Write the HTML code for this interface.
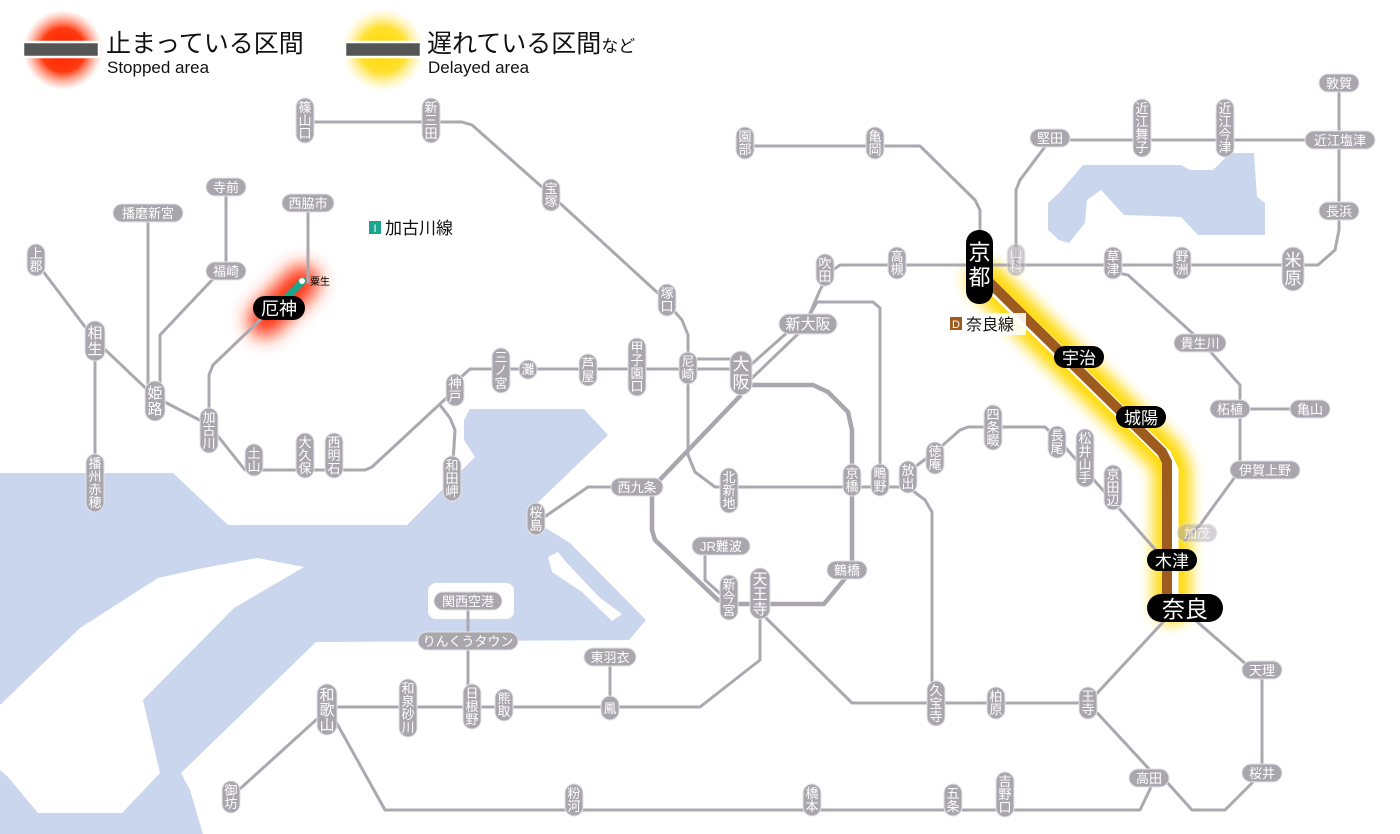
<!DOCTYPE html>
<html><head><meta charset="utf-8"><style>
html,body{margin:0;padding:0;background:#fff;}
svg{display:block;}
text{font-family:"Liberation Sans","Noto Sans CJK JP",sans-serif;}
.l{fill:none;stroke:#aba8b0;stroke-width:3;stroke-linejoin:round;stroke-linecap:round;}
.lt{fill:none;stroke:#a9a6ae;stroke-width:4.5;stroke-linejoin:round;}
.v rect,.h rect{fill:#aaa6ae;stroke:#e4e2e6;stroke-width:1;}
.v text,.h text{fill:#fff;font-size:13px;text-anchor:middle;}
.b rect{fill:#000;}
.b text{fill:#fff;text-anchor:middle;}
</style></head><body>
<svg width="1400" height="834" viewBox="0 0 1400 834" xmlns="http://www.w3.org/2000/svg">
<defs>
<radialGradient id="rg"><stop offset="0" stop-color="#ff2000"/><stop offset="0.55" stop-color="#ff3a10"/><stop offset="1" stop-color="#ff8060" stop-opacity="0"/></radialGradient>
<radialGradient id="yg"><stop offset="0" stop-color="#ffd800"/><stop offset="0.55" stop-color="#ffe030"/><stop offset="1" stop-color="#fff0a0" stop-opacity="0"/></radialGradient>
<filter id="blur" filterUnits="userSpaceOnUse" x="0" y="0" width="1400" height="834"><feGaussianBlur stdDeviation="9"/></filter>
<filter id="blur2" filterUnits="userSpaceOnUse" x="0" y="0" width="1400" height="834"><feGaussianBlur stdDeviation="7"/></filter>
</defs>

<!-- water -->
<polygon fill="#cad6ee" points="0,473 173,473 228,525 407,525 475,457 464,440 464,420 470,409 584,409 608,435 527,513 544,527 570,543 646,620 629,640 316,642 181,773 190,790 203,834 0,834"/>
<polygon fill="#fff" points="257,558 304,567 234,608 143,700 160,773 122,813 38,813 8,777 0,770 0,705 80,628 158,578 203,568"/>
<rect x="428" y="583" width="86" height="36" rx="8" fill="#fff"/>
<polygon fill="#fff" points="548,557 558,552 566,562 600,598 622,614 612,621 582,592 552,572"/>
<polygon fill="#fff" points="552,520 572,498 576,506 562,526"/>
<polygon fill="#cad6ee" points="1083,165 1181,165 1190,170 1213,170 1230,153 1254,153 1257,197 1265,203 1265,235 1198,235 1181,217 1124,215 1101,190 1087,200 1085,223 1069,243 1059,240 1048,230 1048,203 1059,193"/>

<!-- legend -->
<circle cx="63" cy="50" r="40" fill="url(#rg)"/>
<rect x="23" y="42" width="76" height="15" fill="#555" stroke="#fff" stroke-width="2.5"/>
<text x="106" y="52" font-size="25" fill="#111">止まっている区間</text>
<text x="107" y="73" font-size="17" fill="#111">Stopped area</text>
<circle cx="383" cy="50" r="42" fill="url(#yg)"/>
<rect x="345" y="42" width="76" height="15" fill="#555" stroke="#fff" stroke-width="2.5"/>
<text x="427" y="52" font-size="25" fill="#111">遅れている区間<tspan font-size="17">など</tspan></text>
<text x="428" y="73" font-size="17" fill="#111">Delayed area</text>

<!-- glows -->
<line x1="265" y1="320" x2="302" y2="282" stroke="#ff3010" stroke-width="34" stroke-linecap="round" filter="url(#blur)"/>
<polyline points="985,280 1165,455 1172,470 1172,605" fill="none" stroke="#ffd800" stroke-width="38" stroke-linejoin="round" stroke-linecap="round" filter="url(#blur2)" opacity="0.95"/>

<!-- lines -->
<polyline class="l" points="305,122 462,122 472,125 551,195 660,295 682,320 688,335 688,455 695,472 715,487 908,487"/>
<polyline class="l" points="688,359 741,359"/>
<polyline class="l" points="741,369 470,369 460,378 455,390 372,467 365,470 245,470 225,445 209,425 155,397 95,340 36,262"/>
<polyline class="l" points="95,340 95,500"/>
<polyline class="l" points="440,405 450,418 455,430 452,478"/>
<polyline class="l" points="148,213 148,400"/>
<polyline class="l" points="160,398 160,335 212,280 226,271 226,187"/>
<polyline class="l" points="209,425 209,375 213,365 262,318"/>
<polyline class="l" points="308,203 308,282"/>
<line x1="279" y1="305" x2="303" y2="281" stroke="#1aa58f" stroke-width="7" stroke-linecap="round"/>
<circle cx="302" cy="281" r="3" fill="#fff"/>
<polyline class="l" points="745,370 790,330 808,318 820,290 830,272 840,265 1318,265 1335,250 1339,230 1339,83"/>
<polyline class="l" points="750,380 800,332 817,302 873,302 880,308 880,480"/>
<polyline class="l" points="745,146 920,146 975,200 980,210 980,232"/>
<polyline class="l" points="1016,265 1016,190 1020,180 1050,140 1340,140"/>
<polyline class="l" points="1113,272 1128,275 1200,340 1240,385 1240,470 1200,525 1185,540"/>
<polyline class="l" points="1230,409 1310,409"/>
<polyline class="l" points="908,472 935,452 960,430 968,427 1045,427 1057,438 1160,555"/>
<polyline class="l" points="908,487 925,500 932,512 932,703"/>
<polyline class="l" points="760,612 852,703 1088,703 1165,620"/>
<polyline class="l" points="1195,620 1255,672 1262,680 1262,773 1225,810 1192,810 1165,780"/>
<polyline class="l" points="1088,703 1150,770 1152,785 1140,810 385,810 335,720 327,710 231,797"/>
<polyline class="l" points="760,610 760,660 700,707 327,707"/>
<polyline class="l" points="610,657 610,707"/>
<polyline class="l" points="468,601 468,706"/>
<polyline class="l" points="630,487 588,487 540,520"/>
<polyline class="l" points="705,548 705,580 725,598"/>
<polyline class="l" points="729,604 760,604"/>
<polyline class="lt" points="741,385 813,385 828,392 848,412 852,430 852,570 824,604 729,604 718,600 655,540 652,530 652,488 741,395"/>

<!-- Nara line highlighted -->
<polyline points="985,280 1165,455 1172,470 1172,605" fill="none" stroke="#fff" stroke-width="13" stroke-linejoin="round"/>
<polyline points="983,276 1162,452 1167,462 1167,605" fill="none" stroke="#9d5b1d" stroke-width="10" stroke-linejoin="round"/>

<!-- vertical labels -->
<g class="v">
<rect x="296" y="98" width="18" height="45" rx="9"/><text x="305" y="112">篠<tspan x="305" dy="13">山</tspan><tspan x="305" dy="13">口</tspan></text>
<rect x="422" y="98" width="18" height="45" rx="9"/><text x="431" y="112">新<tspan x="431" dy="13">三</tspan><tspan x="431" dy="13">田</tspan></text>
<rect x="542" y="179" width="18" height="32" rx="9"/><text x="551" y="193">宝<tspan x="551" dy="13">塚</tspan></text>
<rect x="658" y="284" width="18" height="32" rx="9"/><text x="667" y="298">塚<tspan x="667" dy="13">口</tspan></text>
<rect x="679" y="352" width="18" height="32" rx="9"/><text x="688" y="366">尼<tspan x="688" dy="13">崎</tspan></text>
<rect x="628" y="338" width="18" height="58" rx="9"/><text x="637" y="352">甲<tspan x="637" dy="13">子</tspan><tspan x="637" dy="13">園</tspan><tspan x="637" dy="13">口</tspan></text>
<rect x="579" y="354" width="18" height="32" rx="9"/><text x="588" y="368">芦<tspan x="588" dy="13">屋</tspan></text>
<rect x="519" y="360" width="18" height="19" rx="9"/><text x="528" y="374">灘</text>
<rect x="492" y="348" width="18" height="45" rx="9"/><text x="501" y="362">三<tspan x="501" dy="13">ノ</tspan><tspan x="501" dy="13">宮</tspan></text>
<rect x="446" y="374" width="18" height="32" rx="9"/><text x="455" y="388">神<tspan x="455" dy="13">戸</tspan></text>
<rect x="443" y="456" width="18" height="45" rx="9"/><text x="452" y="470">和<tspan x="452" dy="13">田</tspan><tspan x="452" dy="13">岬</tspan></text>
<rect x="325" y="433" width="18" height="45" rx="9"/><text x="334" y="447">西<tspan x="334" dy="13">明</tspan><tspan x="334" dy="13">石</tspan></text>
<rect x="296" y="433" width="18" height="45" rx="9"/><text x="305" y="447">大<tspan x="305" dy="13">久</tspan><tspan x="305" dy="13">保</tspan></text>
<rect x="245" y="444" width="18" height="32" rx="9"/><text x="254" y="458">土<tspan x="254" dy="13">山</tspan></text>
<rect x="200" y="408" width="18" height="45" rx="9"/><text x="209" y="422">加<tspan x="209" dy="13">古</tspan><tspan x="209" dy="13">川</tspan></text>
<rect x="145" y="381" width="20" height="40" rx="10"/><text x="155" y="398" style="font-size:15px">姫<tspan x="155" dy="16">路</tspan></text>
<rect x="85" y="321" width="20" height="40" rx="10"/><text x="95" y="338" style="font-size:15px">相<tspan x="95" dy="16">生</tspan></text>
<rect x="27" y="244" width="18" height="32" rx="9"/><text x="36" y="258">上<tspan x="36" dy="13">郡</tspan></text>
<rect x="86" y="454" width="18" height="58" rx="9"/><text x="95" y="468">播<tspan x="95" dy="13">州</tspan><tspan x="95" dy="13">赤</tspan><tspan x="95" dy="13">穂</tspan></text>
<rect x="730" y="351" width="22" height="44" rx="11"/><text x="741" y="370" style="font-size:17px">大<tspan x="741" dy="18">阪</tspan></text>
<rect x="816" y="254" width="18" height="32" rx="9"/><text x="825" y="268">吹<tspan x="825" dy="13">田</tspan></text>
<rect x="888" y="247" width="18" height="32" rx="9"/><text x="897" y="261">高<tspan x="897" dy="13">槻</tspan></text>
<rect x="866" y="127" width="18" height="32" rx="9"/><text x="875" y="141">亀<tspan x="875" dy="13">岡</tspan></text>
<rect x="736" y="127" width="18" height="32" rx="9"/><text x="745" y="141">園<tspan x="745" dy="13">部</tspan></text>
<rect x="1007" y="244" width="18" height="32" rx="9" opacity="0.6"/><text x="1016" y="258" opacity="0.7">山<tspan x="1016" dy="13">科</tspan></text>
<rect x="1133" y="99" width="18" height="58" rx="9"/><text x="1142" y="113">近<tspan x="1142" dy="13">江</tspan><tspan x="1142" dy="13">舞</tspan><tspan x="1142" dy="13">子</tspan></text>
<rect x="1216" y="99" width="18" height="58" rx="9"/><text x="1225" y="113">近<tspan x="1225" dy="13">江</tspan><tspan x="1225" dy="13">今</tspan><tspan x="1225" dy="13">津</tspan></text>
<rect x="1282" y="247" width="22" height="44" rx="11"/><text x="1293" y="266" style="font-size:17px">米<tspan x="1293" dy="18">原</tspan></text>
<rect x="1173" y="247" width="18" height="32" rx="9"/><text x="1182" y="261">野<tspan x="1182" dy="13">洲</tspan></text>
<rect x="1104" y="247" width="18" height="32" rx="9"/><text x="1113" y="261">草<tspan x="1113" dy="13">津</tspan></text>
<rect x="1104" y="465" width="18" height="45" rx="9"/><text x="1113" y="479">京<tspan x="1113" dy="13">田</tspan><tspan x="1113" dy="13">辺</tspan></text>
<rect x="1076" y="429" width="18" height="58" rx="9"/><text x="1085" y="443">松<tspan x="1085" dy="13">井</tspan><tspan x="1085" dy="13">山</tspan><tspan x="1085" dy="13">手</tspan></text>
<rect x="1048" y="426" width="18" height="32" rx="9"/><text x="1057" y="440">長<tspan x="1057" dy="13">尾</tspan></text>
<rect x="984" y="405" width="18" height="45" rx="9"/><text x="993" y="419">四<tspan x="993" dy="13">条</tspan><tspan x="993" dy="13">畷</tspan></text>
<rect x="926" y="442" width="18" height="32" rx="9"/><text x="935" y="456">徳<tspan x="935" dy="13">庵</tspan></text>
<rect x="899" y="461" width="18" height="32" rx="9"/><text x="908" y="475">放<tspan x="908" dy="13">出</tspan></text>
<rect x="871" y="464" width="18" height="32" rx="9"/><text x="880" y="478">鴫<tspan x="880" dy="13">野</tspan></text>
<rect x="843" y="464" width="18" height="32" rx="9"/><text x="852" y="478">京<tspan x="852" dy="13">橋</tspan></text>
<rect x="720" y="468" width="18" height="45" rx="9"/><text x="729" y="482">北<tspan x="729" dy="13">新</tspan><tspan x="729" dy="13">地</tspan></text>
<rect x="527" y="503" width="18" height="32" rx="9"/><text x="536" y="517">桜<tspan x="536" dy="13">島</tspan></text>
<rect x="720" y="575" width="18" height="45" rx="9"/><text x="729" y="589">新<tspan x="729" dy="13">今</tspan><tspan x="729" dy="13">宮</tspan></text>
<rect x="750" y="568" width="20" height="51" rx="10"/><text x="760" y="584" style="font-size:15px">天<tspan x="760" dy="15">王</tspan><tspan x="760" dy="15">寺</tspan></text>
<rect x="601" y="696" width="18" height="24" rx="9"/><text x="610" y="713">鳳</text>
<rect x="495" y="689" width="18" height="32" rx="9"/><text x="504" y="703">熊<tspan x="504" dy="13">取</tspan></text>
<rect x="463" y="684" width="18" height="45" rx="9"/><text x="472" y="698">日<tspan x="472" dy="13">根</tspan><tspan x="472" dy="13">野</tspan></text>
<rect x="399" y="679" width="18" height="58" rx="9"/><text x="408" y="693">和<tspan x="408" dy="13">泉</tspan><tspan x="408" dy="13">砂</tspan><tspan x="408" dy="13">川</tspan></text>
<rect x="317" y="684" width="20" height="51" rx="10"/><text x="327" y="700" style="font-size:15px">和<tspan x="327" dy="15">歌</tspan><tspan x="327" dy="15">山</tspan></text>
<rect x="222" y="781" width="18" height="32" rx="9"/><text x="231" y="795">御<tspan x="231" dy="13">坊</tspan></text>
<rect x="565" y="784" width="18" height="32" rx="9"/><text x="574" y="798">粉<tspan x="574" dy="13">河</tspan></text>
<rect x="803" y="784" width="18" height="32" rx="9"/><text x="812" y="798">橋<tspan x="812" dy="13">本</tspan></text>
<rect x="944" y="784" width="18" height="32" rx="9"/><text x="953" y="798">五<tspan x="953" dy="13">条</tspan></text>
<rect x="996" y="772" width="18" height="45" rx="9"/><text x="1005" y="786">吉<tspan x="1005" dy="13">野</tspan><tspan x="1005" dy="13">口</tspan></text>
<rect x="1079" y="687" width="18" height="32" rx="9"/><text x="1088" y="701">王<tspan x="1088" dy="13">寺</tspan></text>
<rect x="987" y="687" width="18" height="32" rx="9"/><text x="996" y="701">柏<tspan x="996" dy="13">原</tspan></text>
<rect x="927" y="681" width="18" height="45" rx="9"/><text x="936" y="695">久<tspan x="936" dy="13">宝</tspan><tspan x="936" dy="13">寺</tspan></text>
</g>

<!-- horizontal labels -->
<g class="h">
<rect x="113" y="204" width="70" height="18" rx="9"/><text x="148" y="218">播磨新宮</text>
<rect x="206" y="178" width="40" height="18" rx="9"/><text x="226" y="192">寺前</text>
<rect x="206" y="262" width="40" height="18" rx="9"/><text x="226" y="276">福崎</text>
<rect x="282" y="194" width="52" height="18" rx="9"/><text x="308" y="208">西脇市</text>
<rect x="779" y="314" width="58" height="20" rx="10"/><text x="808" y="329" style="font-size:15px">新大阪</text>
<rect x="1030" y="129" width="40" height="18" rx="9"/><text x="1050" y="143">堅田</text>
<rect x="1305" y="131" width="70" height="18" rx="9"/><text x="1340" y="145">近江塩津</text>
<rect x="1319" y="74" width="40" height="18" rx="9"/><text x="1339" y="88">敦賀</text>
<rect x="1319" y="202" width="40" height="18" rx="9"/><text x="1339" y="216">長浜</text>
<rect x="1174" y="334" width="52" height="18" rx="9"/><text x="1200" y="348">貴生川</text>
<rect x="1210" y="400" width="40" height="18" rx="9"/><text x="1230" y="414">柘植</text>
<rect x="1290" y="400" width="40" height="18" rx="9"/><text x="1310" y="414">亀山</text>
<rect x="1230" y="461" width="70" height="18" rx="9"/><text x="1265" y="475">伊賀上野</text>
<rect x="1177" y="524" width="40" height="18" rx="9" opacity="0.5"/><text x="1197" y="538" opacity="0.8">加茂</text>
<rect x="611" y="478" width="52" height="18" rx="9"/><text x="637" y="492">西九条</text>
<rect x="692" y="537" width="58" height="18" rx="9"/><text x="721" y="551">JR難波</text>
<rect x="827" y="561" width="40" height="18" rx="9"/><text x="847" y="575">鶴橋</text>
<rect x="434" y="592" width="68" height="18" rx="9"/><text x="468" y="606">関西空港</text>
<rect x="418" y="632" width="100" height="18" rx="9"/><text x="468" y="646">りんくうタウン</text>
<rect x="584" y="648" width="52" height="18" rx="9"/><text x="610" y="662">東羽衣</text>
<rect x="1129" y="769" width="40" height="18" rx="9"/><text x="1149" y="783">高田</text>
<rect x="1242" y="764" width="40" height="18" rx="9"/><text x="1262" y="778">桜井</text>
<rect x="1242" y="661" width="40" height="18" rx="9"/><text x="1262" y="675">天理</text>
</g>

<!-- black labels -->
<g class="b">
<rect x="253" y="296" width="52" height="24" rx="12"/><text x="279" y="315" style="font-size:18px">厄神</text>
<rect x="966" y="230" width="27" height="74" rx="13"/><text x="979.5" y="260" style="font-size:22px">京<tspan x="979.5" dy="25">都</tspan></text>
<rect x="1054" y="346" width="50" height="22" rx="11"/><text x="1079" y="364" style="font-size:17px">宇治</text>
<rect x="1116" y="406" width="50" height="22" rx="11"/><text x="1141" y="424" style="font-size:17px">城陽</text>
<rect x="1147" y="549" width="50" height="22" rx="11"/><text x="1172" y="567" style="font-size:17px">木津</text>
<rect x="1147" y="594" width="76" height="28" rx="14"/><text x="1185" y="617" style="font-size:23px">奈良</text>
</g>
<text x="310" y="285" font-size="10" fill="#000">粟生</text>

<!-- line legends -->
<rect x="364" y="217" width="98" height="22" fill="#fff" opacity="0.9"/>
<rect x="369" y="221" width="12" height="13" fill="#1aa58f"/><text x="375" y="232" font-size="11" fill="#fff" text-anchor="middle">I</text>
<text x="385" y="234" font-size="17" fill="#111">加古川線</text>
<rect x="946" y="313" width="80" height="22" fill="#fff" opacity="0.9"/>
<rect x="950" y="317" width="12" height="13" fill="#9d5b1d"/><text x="956" y="328" font-size="11" fill="#fff" text-anchor="middle">D</text>
<text x="966" y="330" font-size="16" fill="#111">奈良線</text>
</svg>
</body></html>
